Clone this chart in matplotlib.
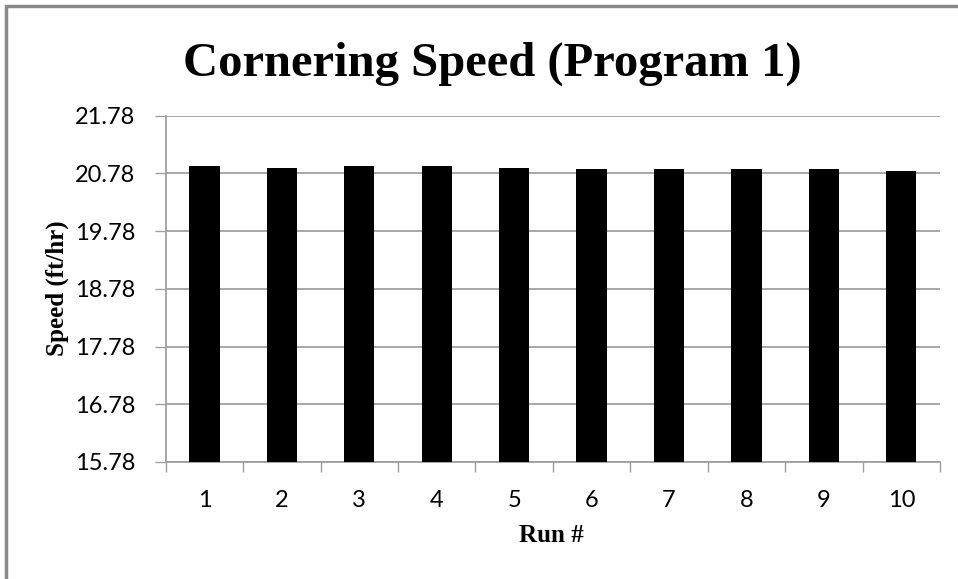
import matplotlib
matplotlib.use("Agg")
import matplotlib.pyplot as plt
from matplotlib.patches import Rectangle

runs = ["1", "2", "3", "4", "5", "6", "7", "8", "9", "10"]
speeds = [20.91, 20.88, 20.91, 20.91, 20.88, 20.86, 20.86, 20.86, 20.86, 20.83]
yticks = [15.78, 16.78, 17.78, 18.78, 19.78, 20.78, 21.78]

fig = plt.figure(figsize=(9.58, 5.79), dpi=100)
ax = fig.add_axes([165.7 / 958, (579 - 462) / 579, (940 - 165.7) / 958, (462 - 115.7) / 579])

x = range(len(runs))
ax.bar(x, speeds, width=0.39, color="black", zorder=3)
ax.set_xlim(-0.5, len(runs) - 0.5)
ax.set_ylim(yticks[0], yticks[-1])
ax.set_yticks(yticks)
ax.set_yticklabels(["%.2f" % v for v in yticks], family="Lato", fontsize=17)
ax.set_xticks(list(x))
ax.set_xticklabels(runs, family="Lato", fontsize=17)
ax.tick_params(axis="x", length=0, pad=20)
ax.tick_params(axis="y", length=8, width=1, color="#a0a0a0", pad=14)
# category boundary ticks on the x axis
ax.set_xticks([i - 0.5 for i in range(len(runs) + 1)], minor=True)
ax.tick_params(axis="x", which="minor", length=7, width=1, color="#a0a0a0")
ax.grid(axis="y", color="#a0a0a0", linewidth=1.3, zorder=0)
for s in ["top", "right"]:
    ax.spines[s].set_visible(False)
for s in ["left", "bottom"]:
    ax.spines[s].set_color("#a0a0a0")
    ax.spines[s].set_linewidth(1.3)

fig.text(492 / 958, 1 - 64 / 579, "Cornering Speed (Program 1)", family="Liberation Serif",
         weight="bold", fontsize=35, ha="center", va="center")
fig.text(57 / 958, 1 - 288 / 579, "Speed (ft/hr)", family="Liberation Serif",
         weight="bold", fontsize=18, rotation=90, ha="center", va="center")
fig.text(551 / 958, 1 - 536 / 579, "Run #", family="Liberation Serif",
         weight="bold", fontsize=18, ha="center", va="center")

# frame of the chart area (left and top edges visible)
fig.patches.append(Rectangle((6 / 958, -0.1), 1.1, 1 - 6 / 579 + 0.1, transform=fig.transFigure,
                             fill=False, edgecolor="#8a8a8a", linewidth=2.5))

fig.savefig("out.png", dpi=100)
